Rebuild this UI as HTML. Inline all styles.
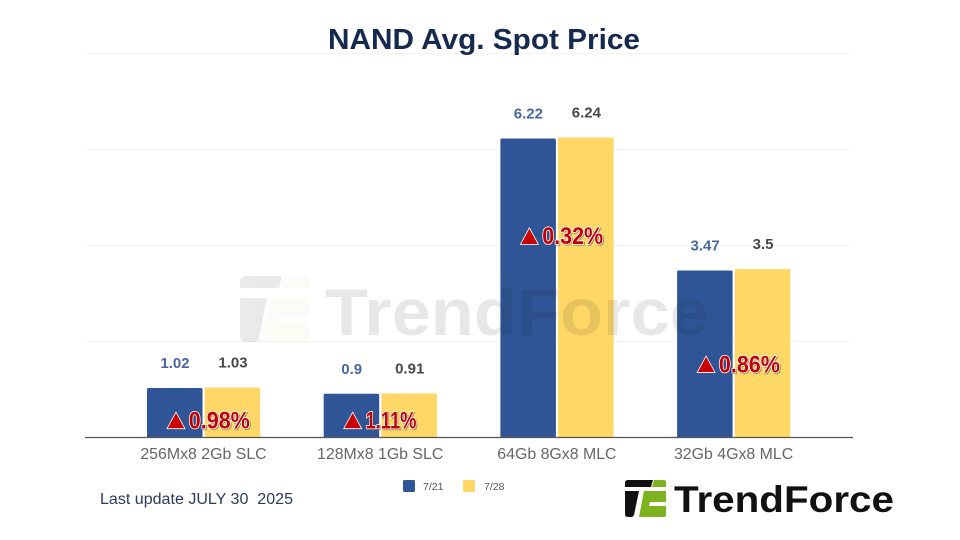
<!DOCTYPE html>
<html lang="en">
<head>
<meta charset="utf-8">
<title>NAND Avg. Spot Price</title>
<style>
html,body{margin:0;padding:0;background:#fff;width:960px;height:540px;overflow:hidden}
svg{display:block}
text{font-family:"Liberation Sans",sans-serif}
</style>
</head>
<body>
<svg id="chart" width="960" height="540" viewBox="0 0 960 540" xmlns="http://www.w3.org/2000/svg">
  <rect width="960" height="540" fill="#fff"/>
  <g id="grid"></g>
  <text x="484" y="49" text-anchor="middle" font-size="29" font-weight="700" fill="#16294f" textLength="312" lengthAdjust="spacingAndGlyphs">NAND Avg. Spot Price</text>
  <g id="bars"></g>
  <line x1="85" x2="853" y1="437.5" y2="437.5" stroke="#555" stroke-width="1.2"/>
  <g id="labels"></g>
  <g id="cats"></g>
  <g opacity="0.095">
    <path d="M240 282q0-6 6-6h36l-3 12h-39zM240 298h27l-8 40q-1 4-5 4h-7q-7 0-7-7z" fill="#222"/>
    <path d="M285 276h19q6 0 6 6v6h-28zM272 298h38v19h-35l-1 5h36v14q0 6-6 6h-46z" fill="#a5c93a" opacity=".55"/>
    <text x="325" y="335" font-size="66" font-weight="700" fill="#111" textLength="384" lengthAdjust="spacingAndGlyphs">TrendForce</text>
  </g>
  <g id="changes"></g>
  <g>
    <rect x="403" y="480" width="12" height="12" rx="1.5" fill="#2f5597"/>
    <text x="423" y="490" font-size="10.5" fill="#555">7/21</text>
    <rect x="463" y="480" width="12" height="12" rx="1.5" fill="#ffd766"/>
    <text x="484" y="490" font-size="10.5" fill="#555">7/28</text>
  </g>
  <text x="100" y="504" font-size="15.5" fill="#2b3a5c" xml:space="preserve" style="white-space:pre" textLength="193" lengthAdjust="spacingAndGlyphs">Last update JULY 30  2025</text>
  <g>
    <path d="M625 483q0-3 3-3h25l-2 7h-26zM625 491h14l-5 24q-1 2-3 2h-3q-3 0-3-3z" fill="#111"/>
    <path d="M654 480h10q2 0 2 2v5h-14zM644 491h22v11h-16l-1 4h17v9q0 2-2 2h-25z" fill="#7fb21f"/>
    <text x="674" y="512" font-size="37" font-weight="700" fill="#111" textLength="220" lengthAdjust="spacingAndGlyphs">TrendForce</text>
  </g>
</svg>
<script>
const categories = ["256Mx8 2Gb SLC", "128Mx8 1Gb SLC", "64Gb 8Gx8 MLC", "32Gb 4Gx8 MLC"];
const seriesA = [1.02, 0.9, 6.22, 3.47];
const seriesB = [1.03, 0.91, 6.24, 3.5];
const changeLabels = ["0.98%", "1.11%", "0.32%", "0.86%"];
const changeAnchorValues = [0.35, 0.35, 4.19, 1.52];
const gridTicks = [0, 2, 4, 6, 8];

const NS = "http://www.w3.org/2000/svg";
const BASE_Y = 437, PX_PER_UNIT = 48, FIRST_CENTER = 203.5, STEP = 176.7, BAR_W = 55.5;
const yScale = v => BASE_Y - v * PX_PER_UNIT;
const xCenter = i => FIRST_CENTER + i * STEP;

function make(parent, tag, attrs, text) {
  const el = document.createElementNS(NS, tag);
  for (const k in attrs) el.setAttribute(k, attrs[k]);
  if (text !== undefined) el.textContent = text;
  parent.appendChild(el);
  return el;
}

const gridG = document.getElementById("grid");
const barsG = document.getElementById("bars");
const labelsG = document.getElementById("labels");
const catsG = document.getElementById("cats");
const changesG = document.getElementById("changes");

gridTicks.forEach(t => {
  if (t === 0) return;
  const line = make(gridG, "line", {x1: 85, x2: 853, y1: yScale(t) + 0.5, y2: yScale(t) + 0.5, stroke: "#f4f4f4", "stroke-width": 1});
  
  
});

categories.forEach((c, i) => {
  const cx = xCenter(i);
  const a = seriesA[i], b = seriesB[i];

  const barA = make(barsG, "path", {d: barPath(cx - BAR_W - 1, yScale(a), BAR_W), fill: "#2f5597"});
  
  

  const barB = make(barsG, "path", {d: barPath(cx + 1.2, yScale(b), BAR_W), fill: "#ffd766"});
  
  

  const labelA = make(labelsG, "text", {x: cx - 28.5, y: yScale(a) - 20, "text-anchor": "middle", "font-size": 15, "font-weight": 700, fill: "#4a689f"}, String(a));
  
  

  const labelB = make(labelsG, "text", {x: cx + 29.5, y: yScale(b) - 20, "text-anchor": "middle", "font-size": 15, "font-weight": 700, fill: "#484848"}, String(b));
  
  

  const cat = make(catsG, "text", {x: cx, y: 459, "text-anchor": "middle", "font-size": 15.9, fill: "#666"}, c);
  
  

  const my = yScale(changeAnchorValues[i]);
  const tx = cx - 27.5;
  const tri = make(changesG, "polygon", {points: `${tx - 9},${my + 8.5} ${tx + 9},${my + 8.5} ${tx},${my - 8}`, fill: "#c80000", stroke: "#fff", "stroke-width": 0.8});
  
  

  const shadow = make(changesG, "text", {x: tx + 13.8, y: my + 9.3, "font-size": 24, "font-weight": 700, fill: "#5a4a30", stroke: "#5a4a30", "stroke-width": 1.4, opacity: 0.5, textLength: i === 1 ? 51 : 61, lengthAdjust: "spacingAndGlyphs"}, changeLabels[i]);
  
  

  const pct = make(changesG, "text", {x: tx + 12.8, y: my + 8.3, "font-size": 24, "font-weight": 700, fill: "#c00008", stroke: "#fff", "stroke-width": 1.6, "paint-order": "stroke", textLength: i === 1 ? 51 : 61, lengthAdjust: "spacingAndGlyphs"}, changeLabels[i]);
  
  
});

function barPath(x, y, w) {
  const r = 1.5;
  return `M${x} ${BASE_Y}V${y + r}Q${x} ${y} ${x + r} ${y}H${x + w - r}Q${x + w} ${y} ${x + w} ${y + r}V${BASE_Y}Z`;
}
</script>
</body>
</html>
